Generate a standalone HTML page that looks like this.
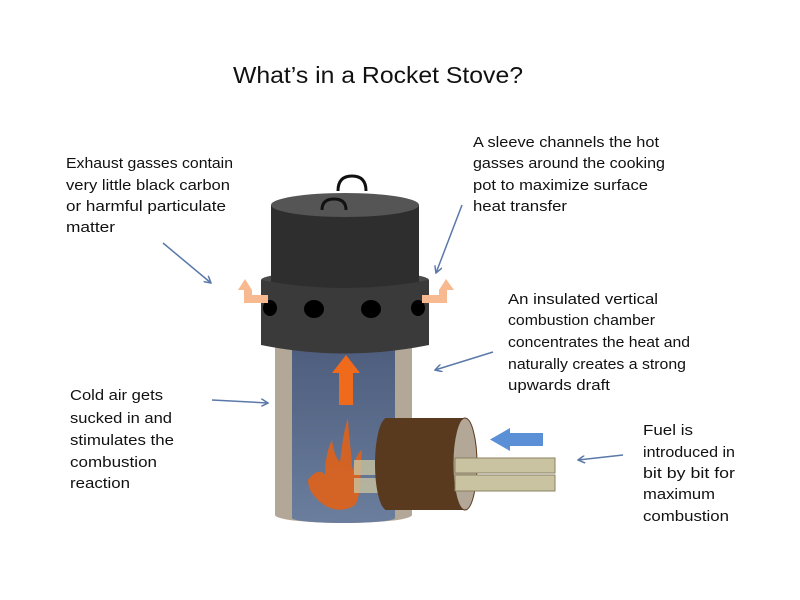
<!DOCTYPE html>
<html><head><meta charset="utf-8"><style>body{margin:0;background:#fff}svg{display:block}</style></head><body>
<svg width="800" height="600" viewBox="0 0 800 600" xmlns="http://www.w3.org/2000/svg" font-family="Liberation Sans, sans-serif">
<defs>
<linearGradient id="bl" x1="0" y1="0" x2="0" y2="1"><stop offset="0" stop-color="#4b5a7a"/><stop offset="1" stop-color="#6a7d9c"/></linearGradient>
<marker id="ah" markerWidth="8" markerHeight="8" refX="7" refY="4" orient="auto" markerUnits="userSpaceOnUse"><path d="M0,0 L7,4 L0,8" fill="none" stroke="#5a78a8" stroke-width="1.5"/></marker>
</defs>
<rect width="800" height="600" fill="#fff"/>
<text x="378" y="83" font-size="23" text-anchor="middle" fill="#111" textLength="290" lengthAdjust="spacingAndGlyphs">What’s in a Rocket Stove?</text>
<g font-size="15" fill="#111">
<text x="66" y="168" textLength="167" lengthAdjust="spacingAndGlyphs">Exhaust gasses contain</text>
<text x="66" y="190" textLength="164" lengthAdjust="spacingAndGlyphs">very little black carbon</text>
<text x="66" y="211" textLength="160" lengthAdjust="spacingAndGlyphs">or harmful particulate</text>
<text x="66" y="232" textLength="49" lengthAdjust="spacingAndGlyphs">matter</text>
<text x="473" y="147" textLength="186" lengthAdjust="spacingAndGlyphs">A sleeve channels the hot</text>
<text x="473" y="168" textLength="192" lengthAdjust="spacingAndGlyphs">gasses around the cooking</text>
<text x="473" y="190" textLength="175" lengthAdjust="spacingAndGlyphs">pot to maximize surface</text>
<text x="473" y="211" textLength="94" lengthAdjust="spacingAndGlyphs">heat transfer</text>
<text x="508" y="304" textLength="150" lengthAdjust="spacingAndGlyphs">An insulated vertical</text>
<text x="508" y="325" textLength="147" lengthAdjust="spacingAndGlyphs">combustion chamber</text>
<text x="508" y="347" textLength="182" lengthAdjust="spacingAndGlyphs">concentrates the heat and</text>
<text x="508" y="369" textLength="178" lengthAdjust="spacingAndGlyphs">naturally creates a strong</text>
<text x="508" y="390" textLength="102" lengthAdjust="spacingAndGlyphs">upwards draft</text>
<text x="70" y="400" textLength="93" lengthAdjust="spacingAndGlyphs">Cold air gets</text>
<text x="70" y="423" textLength="102" lengthAdjust="spacingAndGlyphs">sucked in and</text>
<text x="70" y="445" textLength="104" lengthAdjust="spacingAndGlyphs">stimulates the</text>
<text x="70" y="467" textLength="87" lengthAdjust="spacingAndGlyphs">combustion</text>
<text x="70" y="488" textLength="60" lengthAdjust="spacingAndGlyphs">reaction</text>
<text x="643" y="435" textLength="50" lengthAdjust="spacingAndGlyphs">Fuel is</text>
<text x="643" y="457" textLength="92" lengthAdjust="spacingAndGlyphs">introduced in</text>
<text x="643" y="478" textLength="92" lengthAdjust="spacingAndGlyphs">bit by bit for</text>
<text x="643" y="499" textLength="72" lengthAdjust="spacingAndGlyphs">maximum</text>
<text x="643" y="521" textLength="86" lengthAdjust="spacingAndGlyphs">combustion</text>
</g>
<rect x="275" y="330" width="137" height="185" fill="#b3a797"/>
<ellipse cx="343.5" cy="515" rx="68.5" ry="8" fill="#b3a797"/>
<rect x="292" y="330" width="103" height="188" fill="url(#bl)"/>
<ellipse cx="343.5" cy="518" rx="51.5" ry="5" fill="#6a7d9c"/>
<path d="M339,405 V373 H332 L346,355 L360,373 H353 V405 Z" fill="#f06a1c"/>
<path d="M308,480 C315,470 322,470 325,475 C325,460 328,448 332,440 C334,455 338,460 340,462 C342,445 344,430 348,418 C349,440 352,455 352,470 C355,460 358,452 362,450 C360,470 362,495 355,505 C345,512 330,512 318,500 C312,494 308,488 308,480 Z" fill="#e0621a" opacity="0.9"/>
<rect x="354" y="460" width="33" height="15" fill="#c8c2a0" opacity="0.8"/>
<rect x="354" y="478" width="33" height="15" fill="#c8c2a0" opacity="0.8"/>
<rect x="385" y="418" width="80" height="92" fill="#593a1e"/>
<ellipse cx="387" cy="464" rx="12" ry="46" fill="#593a1e"/>
<ellipse cx="465" cy="464" rx="12" ry="46" fill="#b3a797" stroke="#593a1e" stroke-width="1"/>
<rect x="455" y="458" width="100" height="15" fill="#c9c3a2" stroke="#8a8160" stroke-width="1"/>
<rect x="455" y="475" width="100" height="16" fill="#c9c3a2" stroke="#8a8160" stroke-width="1"/>
<path d="M543,433 V446 H510 V451 L490,439.5 L510,428 V433 Z" fill="#5b8fd6"/>
<ellipse cx="345" cy="280" rx="84" ry="9" fill="#4a4a4a"/>
<rect x="271" y="205" width="148" height="90" fill="#2e2e2e"/>
<ellipse cx="345" cy="205" rx="74" ry="12" fill="#555"/>
<path d="M338,191 Q338,176 352,176 Q366,176 366,191" fill="none" stroke="#111" stroke-width="3"/>
<path d="M322,210 Q322,199 334,199 Q346,199 346,210" fill="none" stroke="#111" stroke-width="3"/>
<path d="M261,280 Q345,296 429,280 V345 Q345,362 261,345 Z" fill="#3a3a3a"/>
<ellipse cx="270" cy="308" rx="7" ry="8" fill="#000"/>
<ellipse cx="314" cy="309" rx="10" ry="9" fill="#000"/>
<ellipse cx="371" cy="309" rx="10" ry="9" fill="#000"/>
<ellipse cx="418" cy="308" rx="7" ry="8" fill="#000"/>
<path d="M268,303 H244 V290 H238 L245,279 L252,290 V295 H268 Z" fill="#f7b98f"/>
<path d="M422,303 H447 V290 H454 L446,279 L439,290 V295 H422 Z" fill="#f7b98f"/>
<g stroke="#5a78a8" stroke-width="1.5" fill="none" marker-end="url(#ah)">
<line x1="163" y1="243" x2="211" y2="283"/>
<line x1="462" y1="205" x2="436" y2="273"/>
<line x1="493" y1="352" x2="435" y2="370"/>
<line x1="212" y1="400" x2="268" y2="403"/>
<line x1="623" y1="455" x2="578" y2="460"/>
</g>
</svg>
</body></html>
